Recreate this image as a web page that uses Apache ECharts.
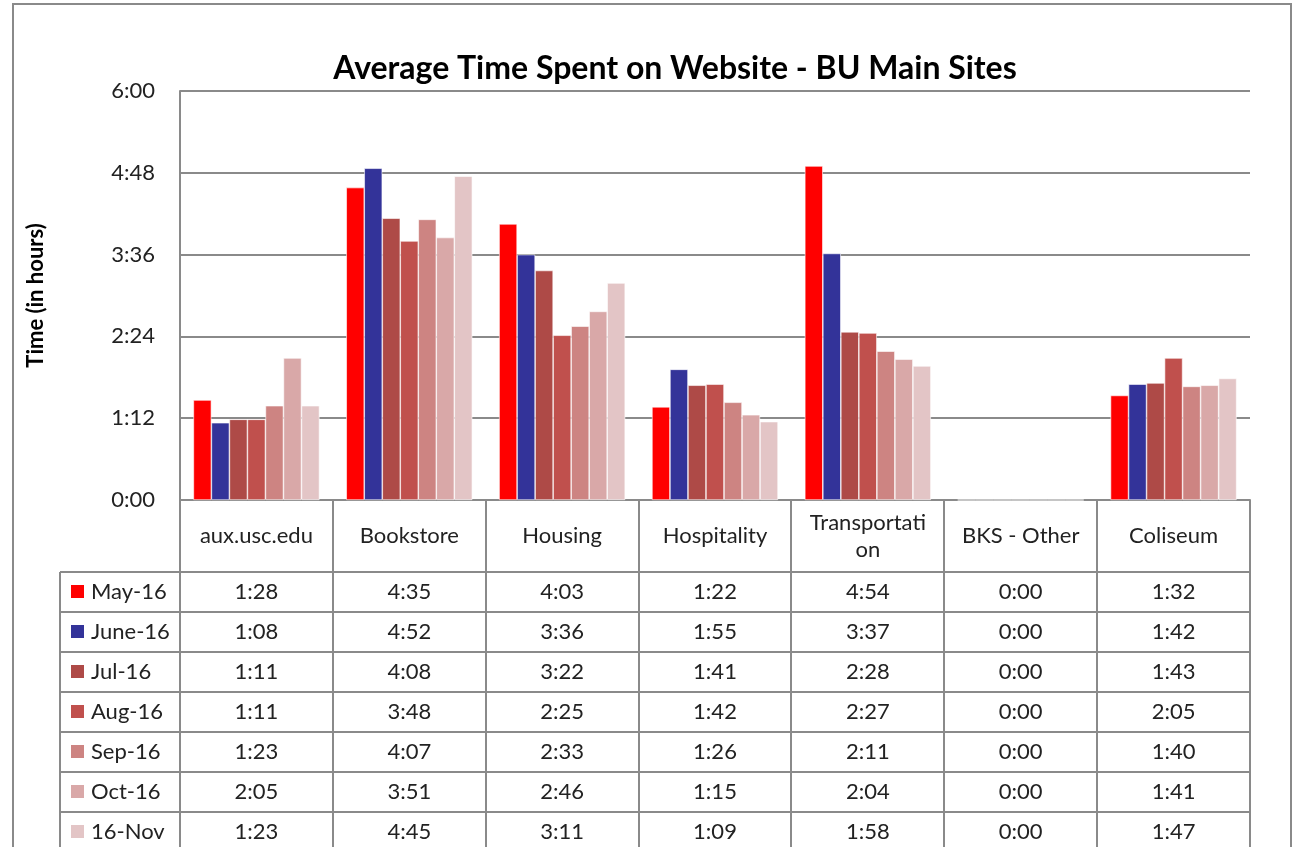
<!DOCTYPE html>
<html>
<head>
    <meta charset="utf-8">
    <title>Average Time Spent on Website</title>
    <script src="https://cdn.jsdelivr.net/npm/echarts@6/dist/echarts.min.js"></script>
    <style>
        html, body { margin: 0; padding: 0; background: #fff; }
    </style>
</head>
<body>
    <div id="main" style="width: 1293px;height:847px;"></div>
    <script type="text/javascript">
// sites and months (table rows)
var categories = ['aux.usc.edu', 'Bookstore', 'Housing', 'Hospitality', 'Transportation', 'BKS - Other', 'Coliseum'];
var months = ['May-16', 'June-16', 'Jul-16', 'Aug-16', 'Sep-16', 'Oct-16', '16-Nov'];

// average time, h:mm
var may16  = ['1:28', '4:35', '4:03', '1:22', '4:54', '0:00', '1:32'];
var june16 = ['1:08', '4:52', '3:36', '1:55', '3:37', '0:00', '1:42'];
var jul16  = ['1:11', '4:08', '3:22', '1:41', '2:28', '0:00', '1:43'];
var aug16  = ['1:11', '3:48', '2:25', '1:42', '2:27', '0:00', '2:05'];
var sep16  = ['1:23', '4:07', '2:33', '1:26', '2:11', '0:00', '1:40'];
var oct16  = ['2:05', '3:51', '2:46', '1:15', '2:04', '0:00', '1:41'];
var nov16  = ['1:23', '4:45', '3:11', '1:09', '1:58', '0:00', '1:47'];

var colors = ['#ff0000', '#333399', '#ae4a47', '#c0504d', '#cd8482', '#d9a8a8', '#e3c5c6'];

var rows = [may16, june16, jul16, aug16, sep16, oct16, nov16];

function toMinutes(s) {
    var p = s.split(':');
    return parseInt(p[0], 10) * 60 + parseInt(p[1], 10);
}
function fmt(m) {
    var h = Math.floor(m / 60), mm = m % 60;
    return h + ':' + (mm < 10 ? '0' : '') + mm;
}

var FONT = 'Lato';
var LINE = '#8a8a8a';
var FS = 22;

var myChart = echarts.init(document.getElementById('main'));

var series = months.map(function (name, i) {
    return {
        name: name,
        type: 'bar',
        barGap: 0,
        barCategoryGap: '17.5%',
        itemStyle: { color: colors[i], borderColor: '#fff', borderWidth: 0.6 },
        data: rows[i].map(toMinutes)
    };
});

var option = {
    backgroundColor: '#ffffff',
    animation: false,
    title: {
        text: 'Average Time Spent on Website - BU Main Sites',
        left: 670,
        top: 48,
        textAlign: 'center',
        textStyle: { fontFamily: FONT, fontSize: 32, fontWeight: 'bold', color: '#000' }
    },
    grid: { left: 180, right: 43, top: 91, bottom: 347 },
    xAxis: {
        type: 'category',
        data: categories,
        axisLine: { lineStyle: { color: LINE, width: 2 } },
        axisTick: { show: false },
        axisLabel: {
            margin: 36,
            verticalAlign: 'middle',
            fontFamily: FONT,
            fontSize: FS,
            lineHeight: 27,
            color: '#222',
            formatter: function (v) {
                return v.length > 12 ? v.slice(0, 12) + '\n' + v.slice(12) : v;
            }
        }
    },
    yAxis: {
        type: 'value',
        min: 0,
        max: 360,
        interval: 72,
        name: 'Time (in hours)',
        nameLocation: 'middle',
        nameRotate: 90,
        nameGap: 133,
        nameTextStyle: { fontFamily: FONT, fontSize: 22, fontWeight: 'bold', color: '#000' },
        axisLine: { show: true, lineStyle: { color: LINE, width: 2 } },
        axisTick: { show: false },
        splitLine: { lineStyle: { color: LINE, width: 2 } },
        axisLabel: {
            margin: 25,
            fontFamily: FONT,
            fontSize: FS,
            color: '#222',
            formatter: fmt
        }
    },
    series: series
};
myChart.setOption(option);

// data table under the axis
var left = 180, right = 1250, axisY = 500, headBottom = 572, rowH = 40, legendLeft = 60;
var colW = (right - left) / categories.length;
var g = [];
// frame
g.push({ type: 'rect', shape: { x: 13, y: 4, width: 1278, height: 900 },
    style: { fill: 'none', stroke: LINE, lineWidth: 2 }, z: 0 });
// vertical column lines
for (var c = 0; c <= categories.length; c++) {
    var x = Math.round(left + c * colW);
    g.push({ type: 'line', shape: { x1: x, y1: axisY, x2: x, y2: 900 },
        style: { stroke: LINE, lineWidth: 2 } });
}
g.push({ type: 'line', shape: { x1: legendLeft, y1: headBottom, x2: legendLeft, y2: 900 },
    style: { stroke: LINE, lineWidth: 2 } });
// horizontal row lines
for (var r = 0; r < months.length; r++) {
    var y = headBottom + r * rowH;
    g.push({ type: 'line', shape: { x1: legendLeft, y1: y, x2: right, y2: y },
        style: { stroke: LINE, lineWidth: 2 } });
}
// legend keys + values
months.forEach(function (m, i) {
    var cy = headBottom + rowH / 2 + i * rowH;
    g.push({ type: 'rect', shape: { x: 71, y: cy - 7, width: 13, height: 13 },
        style: { fill: colors[i] } });
    g.push({ type: 'text', x: 91, y: cy,
        style: { text: m, fontFamily: FONT, fontSize: FS, fill: '#222',
            textAlign: 'left', textVerticalAlign: 'middle' } });
    rows[i].forEach(function (v, j) {
        var cx = myChart.convertToPixel({ xAxisIndex: 0 }, j);
        g.push({ type: 'text', x: cx, y: cy,
            style: { text: fmt(toMinutes(v)), fontFamily: FONT, fontSize: FS, fill: '#222',
                textAlign: 'center', textVerticalAlign: 'middle' } });
    });
});
myChart.setOption({ graphic: g });
    </script>
</body>
</html>
